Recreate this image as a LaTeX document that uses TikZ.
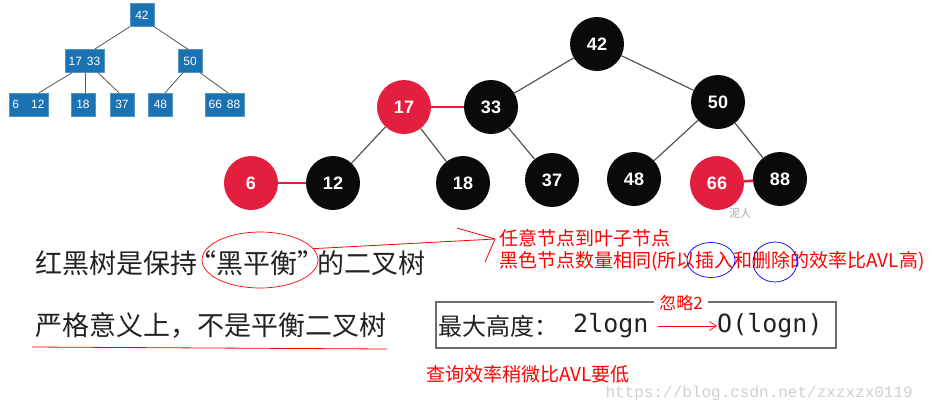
\documentclass[tikz,border=0pt]{standalone}
\usepackage{fontspec}
\setmainfont{Noto Sans CJK SC}
\newfontfamily\numfont{Liberation Sans}
\newfontfamily\codefont{DejaVu Sans Mono}
\newfontfamily\urlfont{Liberation Mono}
\usetikzlibrary{arrows.meta,positioning,shapes.geometric}
\definecolor{btblue}{HTML}{1A72B2}
\definecolor{rbred}{HTML}{E41E3F}
\definecolor{rbblack}{HTML}{0A0A0A}
\definecolor{edgegrey}{HTML}{555555}
\definecolor{txtdark}{HTML}{222222}
\definecolor{markred}{HTML}{FF0000}
\definecolor{markblue}{HTML}{0000FF}
\definecolor{boxgrey}{HTML}{6E6E6E}
\definecolor{wmgrey}{HTML}{CFCFCF}
\newcommand{\openq}{\makebox[19pt][r]{“}}
\newcommand{\closeq}{\makebox[20pt][l]{”}}

\begin{document}
\begin{tikzpicture}[x=1pt,y=-1pt,
  key/.style={rectangle,fill=btblue,draw=btblue!75,text=white,minimum height=23pt,
              minimum width=24pt,inner sep=1pt,font=\numfont\fontsize{12}{12}\selectfont},
  rbnode/.style={circle,minimum size=54pt,inner sep=0pt,text=white,
              font=\numfont\bfseries\fontsize{18}{18}\selectfont},
  blknode/.style={rbnode,fill=rbblack},
  rednode/.style={rbnode,fill=rbred},
  btlink/.style={draw=edgegrey,line width=0.8pt},
  link/.style={draw=edgegrey,line width=1.2pt},
  redlink/.style={draw=rbred,line width=2.6pt},
  body/.style={anchor=west,inner sep=0pt,text=txtdark,font=\fontsize{27}{30}\selectfont},
  note/.style={anchor=west,inner sep=0pt,text=markred,font=\fontsize{19}{22}\selectfont},
  ring/.style={ellipse,draw=#1,line width=0.7pt,inner sep=0pt}
]
\useasboundingbox (0,0) rectangle (942,413);

% ---- 2-3 TREE (top left) ----
\node[key] (k42)   at (142,15)    {42};
\node[key,minimum width=39pt] (k1733) at (84.5,61) {17\hspace{5pt}33};
\node[key] (k50)   at (190,61)    {50};
\node[key,minimum width=39pt] (k612)  at (28.5,104.5) {6\hspace{12pt}12};
\node[key] (k18)   at (83,104.5)  {18};
\node[key] (k37)   at (122,104.5) {37};
\node[key] (k48)   at (160.5,104.5) {48};
\node[key,minimum width=39pt] (k6688) at (224.5,104.5) {66\hspace{5pt}88};

\draw[btlink] (k42.south west) -- ([xshift=10pt]k1733.north);
\draw[btlink] (k42.south east) -- ([xshift=-2pt]k50.north);
\draw[btlink] ([xshift=-12.5pt]k1733.south) -- ([xshift=10.5pt]k612.north);
\draw[btlink] ([xshift=0.5pt]k1733.south) -- ([xshift=2pt]k18.north);
\draw[btlink] ([xshift=13.5pt]k1733.south) -- ([xshift=-3pt]k37.north);
\draw[btlink] ([xshift=-7pt]k50.south) -- ([xshift=4.5pt]k48.north);
\draw[btlink] ([xshift=10pt]k50.south) -- ([xshift=3.5pt]k6688.north);

% ---- RED-BLACK TREE ----
\node[blknode] (n42) at (597,44)  {42};
\node[rednode] (n17) at (404,107) {17};
\node[blknode] (n33) at (491,107) {33};
\node[blknode] (n50) at (718,102) {50};
\node[rednode] (n6)  at (251,183) {6};
\node[blknode] (n12) at (333,183) {12};
\node[blknode] (n18) at (463,183) {18};
\node[blknode] (n37) at (552,180) {37};
\node[blknode] (n48) at (634,179) {48};
\node[rednode] (n66) at (717,183) {66};
\node[blknode] (n88) at (780,179) {88};

\draw[link] (n42) -- (n33);
\draw[link] (n42) -- (n50);
\draw[link] (n33) -- (n37);
\draw[link] (n17) -- (n12);
\draw[link] (n17) -- (n18);
\draw[link] (n50) -- (n48);
\draw[link] (n50) -- (n88);
\draw[redlink] (n17) -- (n33);
\draw[redlink] (n6) -- (n12);
\draw[redlink] (n66) -- (n88);

\node[text=wmgrey!80!black,font=\fontsize{11}{11}\selectfont] (wm1) at (740,213) {泥人};

% ---- TEXT ----
\node[body] (line1) at (35,263) {红黑树是保持\openq 黑平衡\closeq 的二叉树};
\node[body] (line2) at (35,325) {严格意义上，不是平衡二叉树};
\draw[markred,line width=0.8pt] (32,347) -- (387,349);

\node[ring=markred,minimum width=116pt,minimum height=56pt] (hei) at (260,260) {};
\coordinate (tip) at (495,239);
\draw[markred,line width=0.8pt] (hei.12) -- (tip);
\draw[markred,line width=0.8pt] (tip) -- ++(-38,-11);
\draw[markred,line width=0.8pt] (tip) -- ++(-10,23);

\node[note,align=left] (rule) at (499,250)
  {任意节点到叶子节点\\黑色节点数量相同(所以插入和删除的效率比AVL高)};
\node[ring=markblue,minimum width=48pt,minimum height=35pt] (ru) at (711,260) {};
\node[ring=markblue,minimum width=44pt,minimum height=40pt] (shan) at (775,262) {};

% ---- HEIGHT BOX ----
\node[draw=boxgrey,line width=1.5pt,minimum width=400pt,minimum height=46pt] (hbox) at (636,325) {};
\node[anchor=west,inner sep=0pt,text=txtdark,font=\fontsize{24}{24}\selectfont] (hmax) at (438,326) {最大高度：};
\node[anchor=west,inner sep=0pt,text=txtdark,font=\codefont\fontsize{25}{25}\selectfont] (twolog) at (573,326) {2logn};
\node[anchor=west,inner sep=0pt,text=txtdark,font=\codefont\fontsize{25}{25}\selectfont] (olog) at (717,326) {O(logn)};
\draw[markred,line width=0.7pt,-{Straight Barb[length=7pt,width=9pt]}] ([xshift=9pt]twolog.east) -- (olog.west);
\node[fill=white,inner xsep=5pt,inner ysep=1pt,text=markred,font=\fontsize{17}{17}\selectfont] (ignore) at (681,303) {忽略2};

\node[note] (query) at (426,374) {查询效率稍微比AVL要低};
\node[anchor=east,inner sep=0pt,text=wmgrey,font=\urlfont\fontsize{16}{16}\selectfont] (url) at (913,393) {https://blog.csdn.net/zxzxzx0119};

\end{tikzpicture}
\end{document}
